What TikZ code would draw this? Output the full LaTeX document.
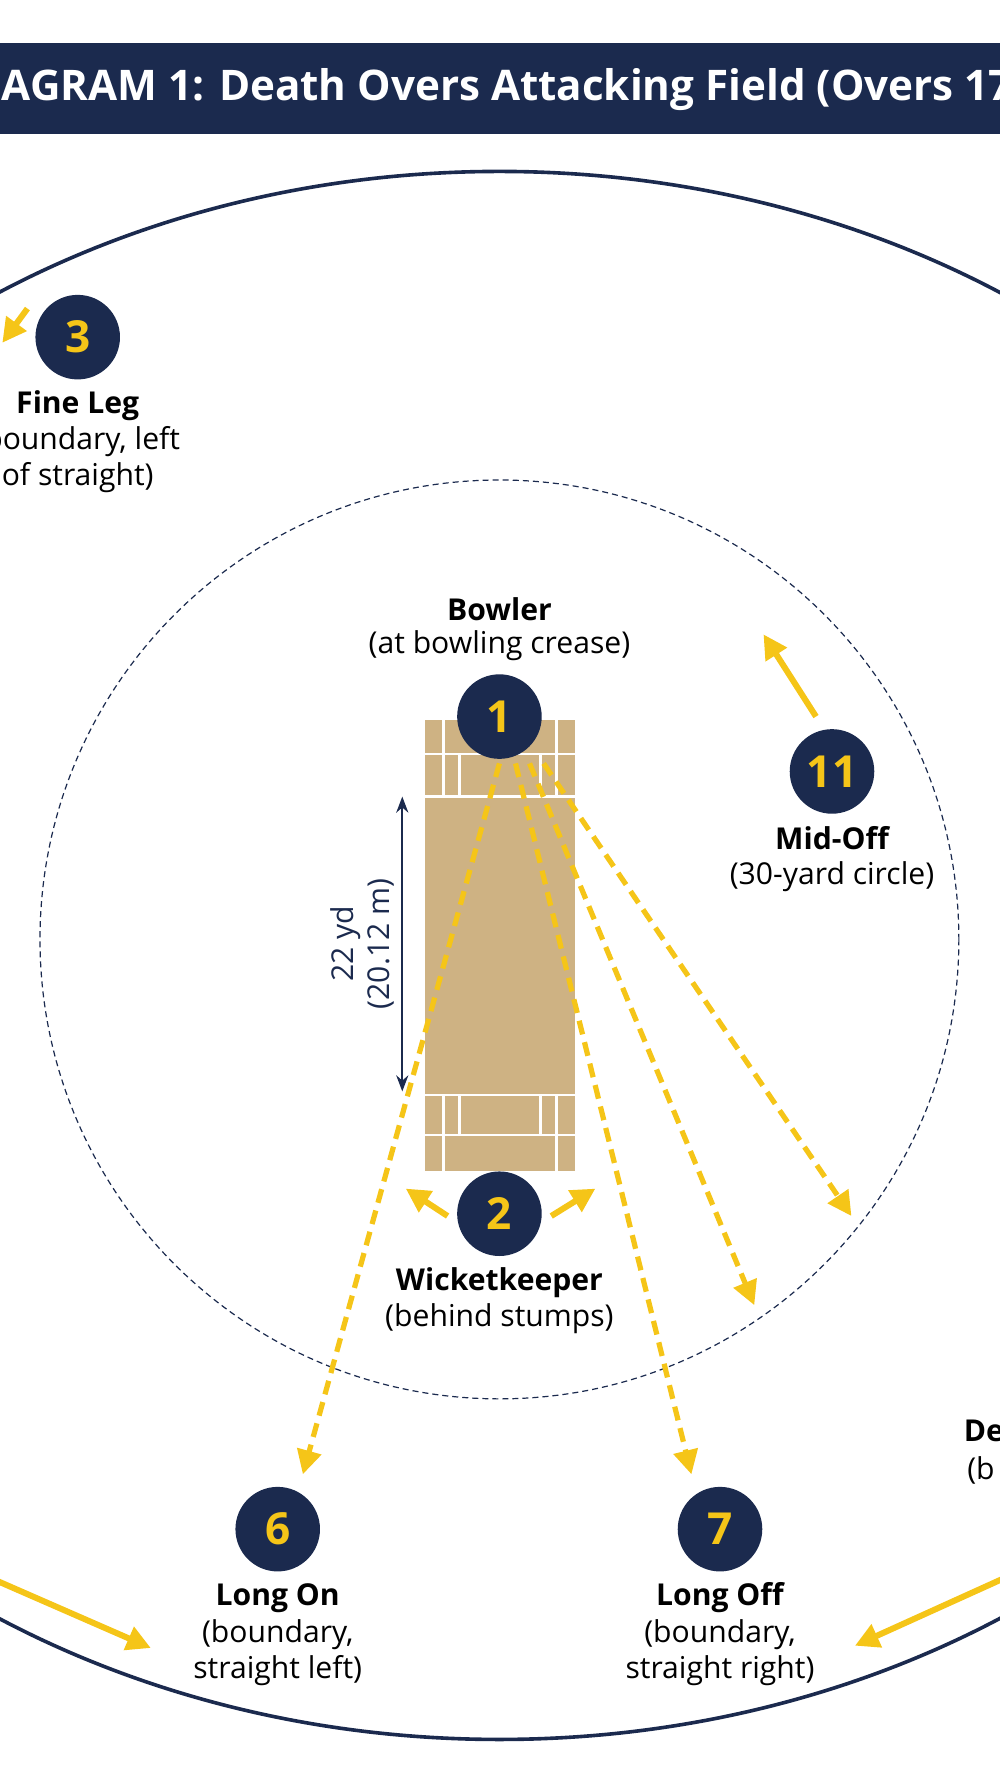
\documentclass[tikz,border=0pt]{standalone}
\usepackage{fontspec}
\setmainfont{Open Sans}
\usetikzlibrary{arrows.meta}
\definecolor{navy}{RGB}{27,42,78}
\definecolor{cyellow}{RGB}{245,197,24}
\definecolor{ctan}{RGB}{206,178,131}
\begin{document}
\begin{tikzpicture}[x=0.02cm,y=-0.02cm,
  player/.style={circle,fill=navy,minimum size=1.48cm,inner sep=0pt,text=cyellow,font=\fontsize{22}{24}\selectfont\bfseries},
  lbl/.style={font=\fontsize{15}{18}\selectfont,text=black,inner sep=0pt},
  bold/.style={lbl,font=\fontsize{15}{18}\selectfont\bfseries},
  runs/.style={cyellow,line width=2.6pt,dash pattern=on 7pt off 4pt,-{Triangle[length=12pt,width=12pt]}},
  move/.style={cyellow,line width=3pt,-{Triangle[length=12pt,width=12pt]}}]
  \useasboundingbox (0,0) rectangle (875,1568);
  \clip (0,0) rectangle (875,1568);
  % ground
  \draw[navy,line width=1.8pt] (437,836) ellipse [x radius=820,y radius=686];
  \draw[navy,line width=0.6pt,dash pattern=on 3pt off 2pt] (437,822) circle [radius=402];
  % title
  \fill[navy] (0,38) rectangle (875,117);
  \node[text=white,font=\fontsize{21}{25}\selectfont\bfseries,anchor=west] (title) at (-44,78)
    {DIAGRAM 1: Death Overs Attacking Field (Overs 17--20)};
  % pitch
  \fill[ctan] (372,630) rectangle (503,1025);
  \draw[white,line width=1.2pt] (372,660) -- (503,660) (372,697) -- (503,697)
    (388,630) -- (388,697) (487,630) -- (487,697) (402,660) -- (402,697) (473,660) -- (473,697)
    (372,958) -- (503,958) (372,993) -- (503,993)
    (388,958) -- (388,1025) (487,958) -- (487,1025) (402,958) -- (402,993) (473,958) -- (473,993);
  % length of pitch
  \coordinate (dtop) at (352,697);
  \coordinate (dbot) at (352,955);
  \draw[navy,line width=1.2pt,{Stealth[length=8pt]}-{Stealth[length=8pt]}] (dtop) -- (dbot);
  \node[lbl,text=navy,rotate=90,align=center] (dlen) at (317,826) {22 yd\\(20.12 m)};
  % fielders
  \node[player] (p1) at (437,627) {1};
  \node[player] (p2) at (437,1062) {2};
  \node[player] (p3) at (68,295) {3};
  \node[player] (p6) at (243,1338) {6};
  \node[player] (p7) at (630,1338) {7};
  \node[player] (p11) at (728,675) {11};
  \node[bold] (l1) at (437,533) {Bowler};
  \node[lbl] (l1b) at (437,565) {(at bowling crease)};
  \node[bold] (l2) at (437,1122) {Wicketkeeper};
  \node[lbl] (l2b) at (437,1154) {(behind stumps)};
  \node[bold] (l3) at (68,355) {Fine Leg};
  \node[lbl,align=center] (l3b) at (68,402) {(boundary, left\\of straight)};
  \node[bold] (l11) at (728,733) {Mid-Off};
  \node[lbl] (l11b) at (728,767) {(30-yard circle)};
  \node[bold] (l6) at (243,1398) {Long On};
  \node[lbl,align=center] (l6b) at (243,1446) {(boundary,\\straight left)};
  \node[bold] (l7) at (630,1398) {Long Off};
  \node[lbl,align=center] (l7b) at (630,1446) {(boundary,\\straight right)};
  \node[bold,anchor=west] (l9) at (843,1255) {Deep};
  \node[lbl,anchor=west] (l9b) at (846,1287) {(b};
  % lines of the ball
  \coordinate (rel) at (437,668);
  \coordinate (t6) at (265,1290);
  \coordinate (t7) at (605,1290);
  \coordinate (t8) at (660,1142);
  \coordinate (t9) at (745,1064);
  \draw[runs] (rel) -- (t6);
  \draw[runs] ([xshift=8]rel) -- (t7);
  \draw[runs] ([xshift=15]rel) -- (t8);
  \draw[runs] ([xshift=22]rel) -- (t9);
  % fielders moving
  \draw[move] (p11) ++(-14,-48) -- (668,555);
  \draw[move] (p2.west) ++(-8,2) -- (355,1040);
  \draw[move] (p2.east) ++(8,2) -- (521,1040);
  \draw[move] (-10,1380) -- (132,1442);
  \draw[move] (885,1378) -- (748,1440);
  \draw[move] (24,270) -- (2,300);
\end{tikzpicture}
\end{document}
